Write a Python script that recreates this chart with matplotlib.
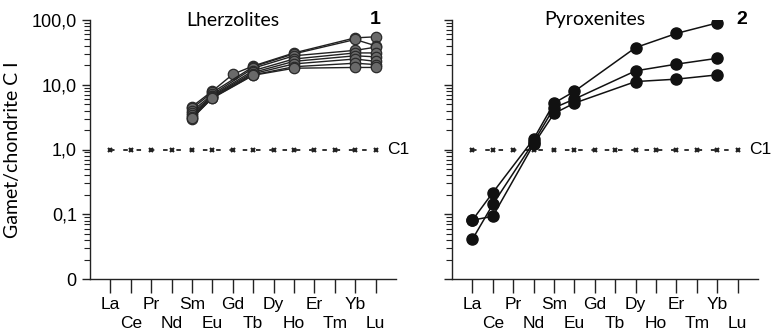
import numpy as np
import matplotlib.pyplot as plt

# REE order on the x axis
elements = ['La', 'Ce', 'Pr', 'Nd', 'Sm', 'Eu', 'Gd', 'Tb', 'Dy', 'Ho', 'Er', 'Tm', 'Yb', 'Lu']

# Lherzolites (panel 1), values at Sm, Eu, Gd, Tb, Ho, Yb, Lu (nan = not measured)
lherz_elems = ['Sm', 'Eu', 'Gd', 'Tb', 'Ho', 'Yb', 'Lu']
lherz_1 = [4.6, 8.0, 14.5, 19.5, 31.0, 53.0, 55.0]
lherz_2 = [4.3, 7.6, np.nan, 19.0, 30.0, 50.0, 40.0]
lherz_3 = [3.9, 7.1, np.nan, 18.0, 28.0, 34.0, 38.0]
lherz_4 = [3.6, 6.8, np.nan, 16.5, 25.0, 31.0, 31.0]
lherz_5 = [3.4, 6.6, np.nan, 15.5, 23.0, 28.0, 27.0]
lherz_6 = [3.2, 6.4, np.nan, 14.8, 21.0, 25.0, 23.0]
lherz_7 = [3.0, 6.3, np.nan, 14.2, 19.0, 21.5, 20.5]
lherz_8 = [3.1, 6.2, np.nan, 14.0, 18.0, 18.5, 18.5]
lherz_all = [lherz_1, lherz_2, lherz_3, lherz_4, lherz_5, lherz_6, lherz_7, lherz_8]

# Pyroxenites (panel 2)
pyrox_elems = ['La', 'Ce', 'Nd', 'Sm', 'Eu', 'Dy', 'Er', 'Yb']
pyrox_a = [0.081, 0.216, 1.45, 5.2, 7.9, 37.5, 62.0, 90.0]
pyrox_b = [0.041, 0.142, 1.30, 4.4, 6.0, 16.4, 20.8, 25.6]
pyrox_c = [0.081, 0.093, 1.20, 3.6, 5.2, 11.2, 12.2, 14.2]
pyrox_all = [pyrox_a, pyrox_b, pyrox_c]

# chondrite C1 reference
c1_values = [1.0] * len(elements)

ytick_vals = [0.01, 0.1, 1, 10, 100]
ytick_labels = ['0', '0,1', '1,0', '10,0', '100,0']

xpos = {e: i for i, e in enumerate(elements)}

fig = plt.figure(figsize=(7.73, 3.35), dpi=100)
ax1 = fig.add_axes([90 / 773, 56 / 335, 306 / 773, 259 / 335])
ax2 = fig.add_axes([452 / 773, 56 / 335, 306 / 773, 259 / 335])

tick_font = 'Liberation Sans'
title_font = 'Lato'


def setup(ax, show_labels):
    ax.set_yscale('log')
    ax.set_ylim(0.01, 100)
    ax.set_xlim(-1, 14)
    for s in ['top', 'right']:
        ax.spines[s].set_visible(False)
    for s in ['left', 'bottom']:
        ax.spines[s].set_linewidth(1.0)
        ax.spines[s].set_color('#222222')
    # two rows of element names: even ones as major ticks, odd ones as minor ticks
    ax.set_xticks(range(0, len(elements), 2))
    ax.set_xticklabels(elements[0::2], fontsize=12.5, family=tick_font)
    ax.set_xticks(range(1, len(elements), 2), minor=True)
    ax.set_xticklabels(elements[1::2], minor=True, fontsize=12.5, family=tick_font)
    ax.tick_params(axis='x', which='major', direction='out', length=10, width=1, pad=3,
                   color='#222222')
    ax.tick_params(axis='x', which='minor', direction='out', length=10, width=1, pad=17,
                   color='#222222')
    ax.set_yticks(ytick_vals)
    ax.tick_params(axis='y', which='major', direction='out', length=6, width=1, color='#222222')
    ax.tick_params(axis='y', which='minor', direction='out', length=4, width=0.8, color='#222222')
    if show_labels:
        ax.set_yticklabels(ytick_labels, fontsize=13, family=tick_font)
    else:
        ax.set_yticklabels([])
    # C1 line
    ax.plot(range(len(elements)), c1_values, color='#222222', linestyle=(0, (2.5, 4.85)),
            linewidth=1.3, marker='x', markersize=3.5, markeredgewidth=1.5)
    ax.text(13.55, 1.0, 'C1', fontsize=12.5, family=tick_font, va='center', ha='left')


setup(ax1, True)
setup(ax2, False)

for s in lherz_all:
    xs = [xpos[e] for e, v in zip(lherz_elems, s) if not np.isnan(v)]
    ys = [v for v in s if not np.isnan(v)]
    ax1.plot(xs, ys, color='#222222', linewidth=1.0, marker='o', markersize=7.5,
             markerfacecolor='#6a6a6a', markeredgecolor='#2a2a2a', markeredgewidth=0.9)

for s in pyrox_all:
    xs = [xpos[e] for e in pyrox_elems]
    ax2.plot(xs, s, color='#111111', linewidth=1.1, marker='o', markersize=8,
             markerfacecolor='#111111', markeredgecolor='#111111')

ax1.text(6, 100, 'Lherzolites', fontsize=14, family=title_font, ha='center', va='center')
ax1.text(13, 100, '1', fontsize=14, family=tick_font, fontweight='bold', ha='center', va='center')
ax2.text(6, 100, 'Pyroxenites', fontsize=14, family=title_font, ha='center', va='center')
ax2.text(13.2, 100, '2', fontsize=14, family=tick_font, fontweight='bold', ha='center', va='center')

ax1.set_ylabel('Gamet/chondrite C I', fontsize=14, family=title_font)
ax1.yaxis.set_label_coords(-0.225, 0.5)

fig.savefig('out.png', dpi=100)
